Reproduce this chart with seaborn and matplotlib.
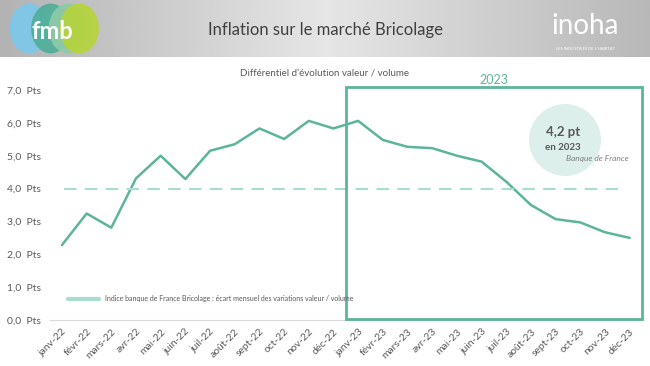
import numpy as np
import pandas as pd
import seaborn as sns
import matplotlib.pyplot as plt
from matplotlib.patches import Rectangle, Ellipse
from matplotlib.lines import Line2D

months = ['janv-22', 'févr-22', 'mars-22', 'avr-22', 'mai-22', 'juin-22',
          'juil-22', 'août-22', 'sept-22', 'oct-22', 'nov-22', 'déc-22',
          'janv-23', 'févr-23', 'mars-23', 'avr-23', 'mai-23', 'juin-23',
          'juil-23', 'août-23', 'sept-23', 'oct-23', 'nov-23', 'déc-23']
ecart = [2.28, 3.24, 2.81, 4.31, 5.00, 4.29, 5.15, 5.35, 5.83, 5.51, 6.06, 5.83,
         6.06, 5.48, 5.27, 5.23, 5.00, 4.82, 4.21, 3.50, 3.07, 2.97, 2.67, 2.50]
moyenne_2023 = 4.0
yticks = [0, 1, 2, 3, 4, 5, 6, 7]

line_col = '#5cb49c'
light_col = '#a9ddd1'
grey = '#595959'

sns.set_style('white')
plt.rcParams['font.family'] = ['Lato', 'DejaVu Sans']

df = pd.DataFrame({'idx': np.arange(len(months)), 'val': ecart})

fig = plt.figure(figsize=(6.5, 3.66), dpi=100)

# header band
hax = fig.add_axes([0, 1 - 57 / 366, 1, 57 / 366])
grad = np.concatenate([np.linspace(0.70, 0.90, 128), np.linspace(0.90, 0.72, 128)])
hax.imshow(np.tile(grad, (10, 1)), cmap='gray', vmin=0, vmax=1, aspect='auto',
           extent=[0, 1, 0, 1])
hax.set_xlim(0, 1)
hax.set_ylim(0, 1)
hax.axis('off')
hax.text(0.5, 0.47, 'Inflation sur le marché Bricolage', ha='center', va='center',
         fontsize=12, color='#404040')
# fmb logo
for cx, col in [(0.045, '#7cc8ea'), (0.078, '#4fae98'), (0.105, '#8fcaa8'), (0.122, '#b6d43a')]:
    hax.add_patch(Ellipse((cx, 0.5), 0.058, 0.85, color=col, alpha=0.9))
hax.text(0.08, 0.45, 'fmb', ha='center', va='center', fontsize=17,
         fontweight='bold', color='white')
# inoha logo
hax.text(0.9, 0.55, 'inoha', ha='center', va='center', fontsize=20, color='white')
hax.text(0.9, 0.14, "LES INDUSTRIES DE L'HABITAT", ha='center', va='center',
         fontsize=3, color='white')

ax = fig.add_axes([49.6 / 650, 46 / 366, (642 - 49.6) / 650, 230 / 366])
sns.lineplot(data=df, x='idx', y='val', ax=ax, color=line_col, linewidth=1.8)
ax.hlines(moyenne_2023, 0.1, 22.7, colors=light_col, linestyles=(0, (6, 4)), linewidth=1.5)

ax.set_xlim(-0.5, len(months) - 0.5)
ax.set_ylim(0, 7)
ax.set_xticks(df['idx'])
ax.set_xticklabels(months, rotation=45, ha='right', rotation_mode='anchor',
                   fontsize=7.5, color=grey)
ax.set_yticks(yticks)
ax.set_yticklabels([f'{v:.1f}'.replace('.', ',') + '  Pts' for v in yticks],
                   fontsize=7.5, color=grey)
ax.tick_params(axis='x', length=3, color='#d9d9d9', pad=2)
ax.tick_params(axis='y', length=0, pad=6)
for s in ['top', 'right', 'left']:
    ax.spines[s].set_visible(False)
ax.spines['bottom'].set_color('#d9d9d9')
ax.set_xlabel('')
ax.set_ylabel('')

# 2023 box
ax.add_patch(Rectangle((11.5, 0.03), 12.0, 7.06, fill=False, edgecolor=line_col,
                       linewidth=2, clip_on=False, zorder=5))
ax.text(17.5, 7.3, '2023', ha='center', va='center', fontsize=9, color=line_col)

# circle annotation
fig.patches.append(Ellipse((565 / 650, 1 - 140 / 366), 72 / 650, 72 / 366,
                           transform=fig.transFigure, facecolor='#dcefea',
                           edgecolor='none', zorder=0))
fig.text(563 / 650, 1 - 132 / 366, '4,2 pt', ha='center', va='center', fontsize=9.5,
         fontweight='bold', color=grey)
fig.text(563 / 650, 1 - 148 / 366, 'en 2023', ha='center', va='center', fontsize=7,
         fontweight='bold', color=grey)
fig.text(597 / 650, 1 - 159 / 366, 'Banque de France', ha='center', va='center',
         fontsize=6, style='italic', color='#7f7f7f')

fig.text(325 / 650, 1 - 73 / 366, "Différentiel d'évolution valeur / volume",
         ha='center', va='center', fontsize=7, color=grey)

handle = Line2D([], [], color=light_col, linewidth=3)
ax.legend([handle], ['Indice banque de France Bricolage : écart mensuel des variations valeur / volume'],
          loc='lower left', bbox_to_anchor=(0.02, 0.05), frameon=False, fontsize=5,
          handlelength=4.5, labelcolor=grey)

fig.savefig('out.png', dpi=100)
